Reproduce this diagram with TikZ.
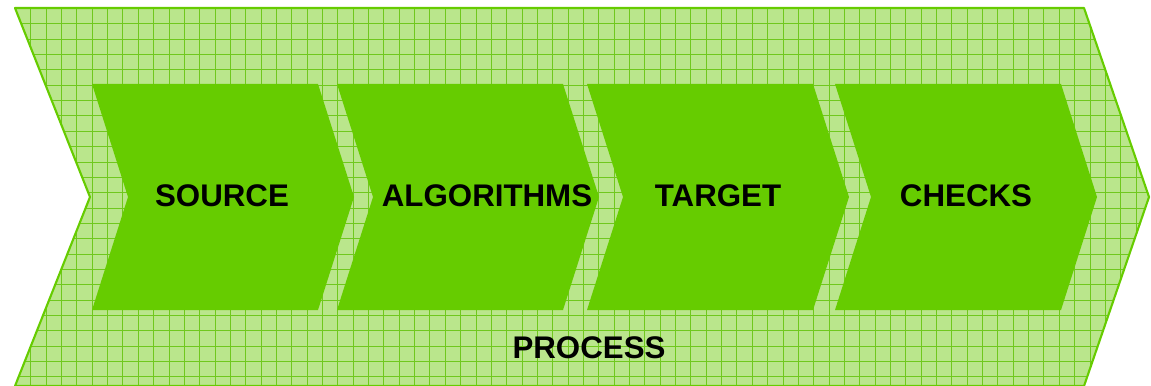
\documentclass[tikz,border=0pt]{standalone}
\usepackage{fontspec}
\setmainfont{Liberation Sans}
\definecolor{leaf}{RGB}{102,204,0}
\definecolor{pale}{RGB}{186,230,140}
\definecolor{mesh}{RGB}{112,200,30}

\begin{document}
\begin{tikzpicture}[x=0.02cm, y=-0.02cm,
    mesh/.style={draw=mesh, line width=0.02cm},
    stage/.style={fill=leaf},
    caption/.style={font=\fontsize{17.8}{20}\selectfont\bfseries, anchor=base, inner sep=0pt}]

   \useasboundingbox (0,0) rectangle (1151,385);

   % outer arrow
   \foreach \n/\x/\y in {1/15/8, 2/1084/8, 3/1149/197, 4/1084/386, 5/15/386, 6/90/197}
     \coordinate (p\n) at (\x,\y);
   \begin{scope}
     \clip (p1) -- (p2) -- (p3) -- (p4) -- (p5) -- (p6) -- cycle;
     \fill[pale] (0,0) rectangle (1160,400);
     \foreach \k in {1,...,74}
       \draw[mesh] (15.5+\k*15.35,0) -- ++(0,400);
     \foreach \k in {1,...,25}
       \draw[mesh] (0,8.5+\k*15.35) -- ++(1160,0);
   \end{scope}
   \draw[leaf, line width=1.2pt, line join=round] (p1) -- (p2) -- (p3) -- (p4) -- (p5) -- (p6) -- cycle;

   \foreach \x/\c/\t in {92/222/SOURCE, 337/487/ALGORITHMS, 587/718/TARGET, 835/966/CHECKS} {
     \fill[stage] (\x,84) -- ++(226,0) -- ++(36,113) -- ++(-36,113) -- ++(-226,0) -- ++(36,-113) -- cycle;
     \node[caption] (s\t) at (\c,206) {\t};
   }

   \node[caption] (process) at (589,358) {PROCESS};

\end{tikzpicture}
\end{document}
